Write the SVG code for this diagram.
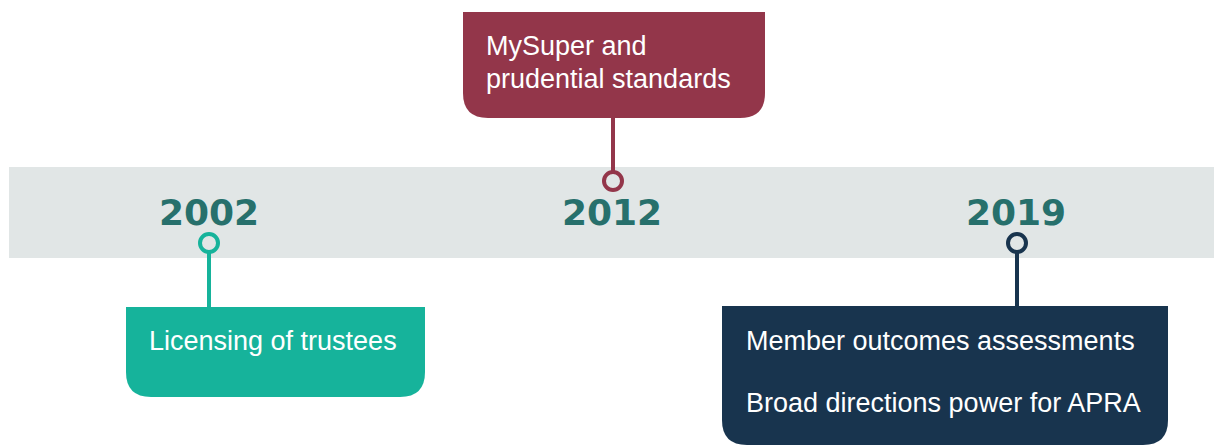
<svg xmlns="http://www.w3.org/2000/svg" width="1214" height="446" viewBox="0 0 1214 446">
<style>
.year{font-family:"DejaVu Sans",sans-serif;font-weight:bold;font-size:36px;fill:#27706c;text-anchor:middle}
.lbl{font-family:"Liberation Sans",Arial,sans-serif;font-size:27px;fill:#ffffff}
.dot{fill:none;stroke-width:4}
.stem{stroke-width:4}
</style>
<rect id="band" x="9" y="167" width="1205" height="91" fill="#e1e6e6"/>
<g id="connectors">
<line class="stem" x1="613" y1="118" x2="613" y2="171" stroke="#93364a"/>
<line class="stem" x1="209" y1="253" x2="209" y2="307" stroke="#16b39b"/>
<line class="stem" x1="1017" y1="253" x2="1017" y2="307" stroke="#18344e"/>
</g>
<g id="node-2012">
<path d="M463 12 H765 V93 Q765 118 740 118 H488 Q463 118 463 93 Z" fill="#93364a"/>
<text class="lbl" x="486" y="55">MySuper and</text>
<text class="lbl" x="486" y="88">prudential standards</text>
<circle class="dot" cx="613" cy="181" r="9" stroke="#93364a"/>
<text class="year" x="612" y="225">2012</text>
</g>
<g id="node-2002">
<path d="M126 307 H425 V372 Q425 397 400 397 H151 Q126 397 126 372 Z" fill="#16b39b"/>
<text class="lbl" x="149" y="350">Licensing of trustees</text>
<circle class="dot" cx="209" cy="243" r="9" stroke="#16b39b"/>
<text class="year" x="209" y="225">2002</text>
</g>
<g id="node-2019">
<path d="M722 306 H1168 V420 Q1168 445 1143 445 H747 Q722 445 722 420 Z" fill="#18344e"/>
<text class="lbl" x="746" y="350">Member outcomes assessments</text>
<text class="lbl" x="746" y="412">Broad directions power for APRA</text>
<circle class="dot" cx="1017" cy="243" r="9" stroke="#18344e"/>
<text class="year" x="1016" y="225">2019</text>
</g>
</svg>
